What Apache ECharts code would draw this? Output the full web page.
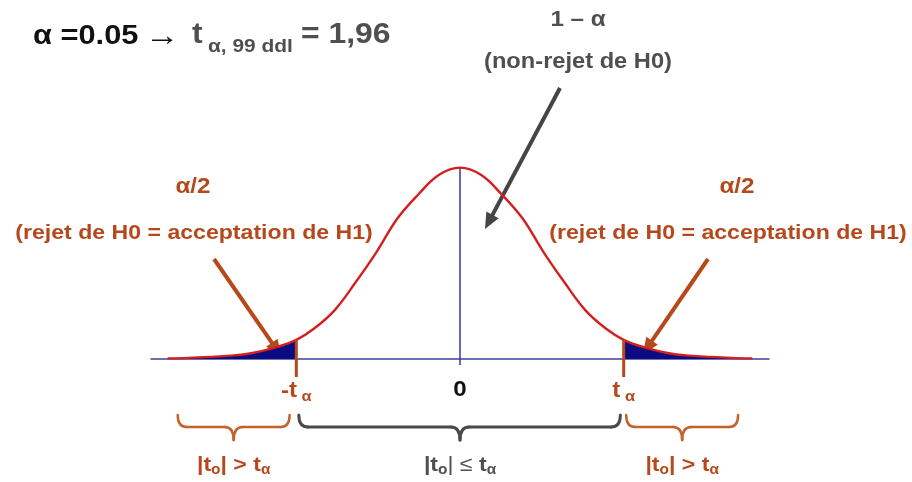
<!DOCTYPE html>
<html><head><meta charset="utf-8">
<script src="https://cdn.jsdelivr.net/npm/echarts@6/dist/echarts.min.js"></script>
<style>html,body{margin:0;padding:0;background:#fff}#c{width:912px;height:482px}</style>
</head><body><div id="c"></div>
<script>
// ---- data ----
const curveX = [-3.5,-3.25,-3,-2.75,-2.5,-2.25,-1.96,-1.75,-1.5,-1.25,-1,-0.75,-0.5,-0.25,0,0.25,0.5,0.75,1,1.25,1.5,1.75,1.96,2.25,2.5,2.75,3,3.25,3.5];
const curveY = [0.0012,0.0024,0.0044,0.007,0.012,0.022,0.040,0.063,0.102,0.160,0.223,0.293,0.343,0.384,0.399,0.384,0.343,0.293,0.223,0.160,0.102,0.063,0.040,0.022,0.012,0.007,0.0044,0.0024,0.0012];
const tCrit = 1.96;
const xRange = [-3.7, 3.7];
const tickValues = [-1.96, 0, 1.96];
const tickLabels = ['-t', '0', 't'];

const FONT = '"Liberation Sans", Arial, sans-serif';
const ORANGE = '#b6491c';
const BRACE_OR = '#c2622c';
const GRAY = '#4f4f4f';
const RED = '#d41f1f';
const NAVY = '#0b0b82';
const SX = 1.1;

const pts = curveX.map((x, i) => [x, curveY[i]]);
const leftTail = pts.filter(p => p[0] <= -tCrit);
const rightTail = pts.filter(p => p[0] >= tCrit);
const peak = Math.max(...curveY);

const chart = echarts.init(document.getElementById('c'), null, {renderer: 'canvas'});
chart.setOption({
  animation: false,
  backgroundColor: '#fff',
  grid: {left: 151, right: 143, top: 148, bottom: 123},
  xAxis: {type: 'value', min: xRange[0], max: xRange[1],
    axisLine: {show: true, lineStyle: {color: '#40409a', width: 1.5}},
    axisTick: {show: false}, axisLabel: {show: false}, splitLine: {show: false}},
  yAxis: {type: 'value', min: 0, max: 0.44, show: false},
  series: [
    {type: 'line', data: leftTail, smooth: 0.4, symbol: 'none', lineStyle: {width: 0}, areaStyle: {color: NAVY, opacity: 1}, z: 2},
    {type: 'line', data: rightTail, smooth: 0.4, symbol: 'none', lineStyle: {width: 0}, areaStyle: {color: NAVY, opacity: 1}, z: 2},
    {type: 'line', data: [[0, -0.0125], [0, peak]], symbol: 'none', clip: false, lineStyle: {color: '#3434ad', width: 1.5}, z: 3},
    {type: 'line', data: pts, smooth: 0.4, symbol: 'none', lineStyle: {color: RED, width: 2.4}, z: 4},
    {type: 'line', data: [[-tCrit, 0.040], [-tCrit, -0.0375]], symbol: 'none', clip: false, lineStyle: {color: ORANGE, width: 3}, z: 5},
    {type: 'line', data: [[tCrit, 0.040], [tCrit, -0.0375]], symbol: 'none', clip: false, lineStyle: {color: ORANGE, width: 3}, z: 5}
  ]
});

function px(x, y) { return chart.convertToPixel({gridIndex: 0}, [x, y]); }

function txt(text, x, y, size, color, weight, align, sx) {
  return {type: 'text', x: x, y: y, z: 10, scaleX: sx || SX,
    style: {text: text, fill: color, fontSize: size, fontWeight: weight || 'bold', fontFamily: FONT, align: align || 'center', verticalAlign: 'middle'}};
}
function arrow(x1, y1, x2, y2, color, w, hl, hw) {
  const dx = x2 - x1, dy = y2 - y1, L = Math.hypot(dx, dy);
  const ux = dx / L, uy = dy / L, nx = -uy, ny = ux;
  const bx = x2 - ux * hl, by = y2 - uy * hl;
  return {type: 'group', z: 9, children: [
    {type: 'line', shape: {x1: x1, y1: y1, x2: bx + ux * 2, y2: by + uy * 2}, style: {stroke: color, lineWidth: w}},
    {type: 'polygon', shape: {points: [[x2, y2], [bx + nx * hw, by + ny * hw], [bx - nx * hw, by - ny * hw]]}, style: {fill: color}}
  ]};
}
function brace(x1, x2, xc, yt, ym, yb, color, lw) {
  const r = 9;
  const st = {stroke: color, lineWidth: lw || 2.5, fill: null, lineCap: 'round'};
  return {type: 'group', z: 9, children: [
    {type: 'bezierCurve', shape: {x1: x1, y1: yt, cpx1: x1, cpy1: ym, x2: x1 + r, y2: ym}, style: st},
    {type: 'line', shape: {x1: x1 + r, y1: ym, x2: xc - r, y2: ym}, style: st},
    {type: 'bezierCurve', shape: {x1: xc - r, y1: ym, cpx1: xc, cpy1: ym, x2: xc, y2: yb}, style: st},
    {type: 'bezierCurve', shape: {x1: xc, y1: yb, cpx1: xc, cpy1: ym, x2: xc + r, y2: ym}, style: st},
    {type: 'line', shape: {x1: xc + r, y1: ym, x2: x2 - r, y2: ym}, style: st},
    {type: 'bezierCurve', shape: {x1: x2 - r, y1: ym, cpx1: x2, cpy1: ym, x2: x2, y2: yt}, style: st}
  ]};
}
function richLabel(x, y, main1, sub1, main2, sub2, color, size, midWeight) {
  return {type: 'text', x: x, y: y, z: 10, scaleX: SX, style: {
    text: `{b|${main1}}{s|${sub1}}{m|${main2}}{b|t}{s|${sub2}}`,
    align: 'center', verticalAlign: 'middle',
    rich: {
      b: {fill: color, fontSize: size, fontWeight: 'bold', fontFamily: FONT, lineHeight: 28},
      m: {fill: color, fontSize: size, fontWeight: midWeight, fontFamily: FONT, lineHeight: 28},
      s: {fill: color, fontSize: 14, fontWeight: 'bold', fontFamily: FONT, lineHeight: 28, padding: [10, 0, 0, 0]}
    }}};
}
function tickLabel(v, label, color) {
  const p = px(v, 0);
  if (label === '0') return txt('0', p[0], 390, 22, '#111');
  return {type: 'text', x: p[0], y: 391, z: 10, scaleX: SX, style: {
    text: `{m|${label}}{s| α}`, align: 'center', verticalAlign: 'middle',
    rich: {
      m: {fill: color, fontSize: 22, fontWeight: 'bold', fontFamily: FONT, lineHeight: 28},
      s: {fill: color, fontSize: 15, fontWeight: 'bold', fontFamily: FONT, lineHeight: 28, padding: [12, 0, 0, 0]}
    }}};
}

const g = [];
// title
g.push(txt('α =0.05', 33, 36, 28, '#111', 'bold', 'left'));
g.push(txt('→', 145, 37, 30, '#111', 'normal', 'left', 1.15));
g.push(txt('t', 192, 35, 29, GRAY, 'bold', 'left'));
g.push(txt('α, 99 ddl', 208, 47, 19, GRAY, 'bold', 'left'));
g.push(txt('= 1,96', 301, 35, 29, GRAY, 'bold', 'left'));
// 1 - alpha
g.push(txt('1 – α', 578, 20, 22, GRAY));
g.push(txt('(non-rejet de H0)', 578, 62, 21.5, GRAY));
g.push(arrow(560, 88, 485, 229, '#454545', 4, 16, 7));
// alpha/2 labels
g.push(txt('α/2', 193, 187, 22, ORANGE));
g.push(txt('(rejet de H0 = acceptation de H1)', 194, 233, 21, ORANGE));
g.push(txt('α/2', 737, 187, 22, ORANGE));
g.push(txt('(rejet de H0 = acceptation de H1)', 728, 233, 21, ORANGE));
g.push(arrow(214, 259, 281, 356, ORANGE, 4, 16, 7));
g.push(arrow(708, 259, 643, 354, ORANGE, 4, 16, 7));
// tick labels
tickValues.forEach((v, i) => g.push(tickLabel(v, tickLabels[i], i === 1 ? '#111' : ORANGE)));
// braces
const bL1 = px(-3.38, 0)[0], bL2 = px(-2.04, 0)[0];
const bM1 = px(-1.93, 0)[0], bM2 = px(1.92, 0)[0];
const bR1 = px(1.99, 0)[0], bR2 = px(3.33, 0)[0];
g.push(brace(bL1, bL2, (bL1 + bL2) / 2, 415, 427, 440, BRACE_OR));
g.push(brace(bM1, bM2, px(0, 0)[0], 415, 427, 440, '#4a4a4a', 3));
g.push(brace(bR1, bR2, (bR1 + bR2) / 2, 415, 427, 440, BRACE_OR));
// bottom labels
g.push(richLabel((bL1 + bL2) / 2, 465, '|t', 'o', '| > ', 'α', ORANGE, 21, 'bold'));
g.push(richLabel(px(0, 0)[0], 465, '|t', 'o', '| ≤ ', 'α', GRAY, 21, 'normal'));
g.push(richLabel((bR1 + bR2) / 2, 465, '|t', 'o', '| > ', 'α', ORANGE, 21, 'bold'));

chart.setOption({graphic: g});
</script></body></html>
